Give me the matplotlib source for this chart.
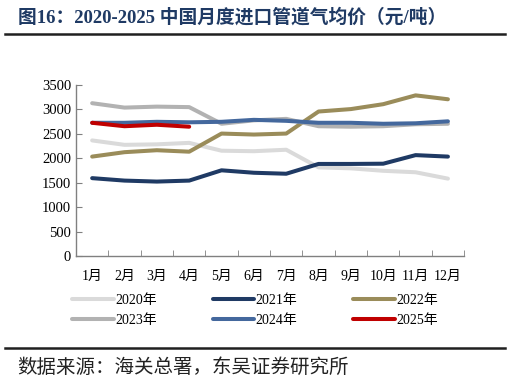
import matplotlib.pyplot as plt
import numpy as np

# Monthly average import price of pipeline gas (yuan/ton)
months = ['1月', '2月', '3月', '4月', '5月', '6月', '7月', '8月', '9月', '10月', '11月', '12月']
y2020 = [2360, 2270, 2280, 2310, 2150, 2140, 2170, 1810, 1790, 1740, 1710, 1580]
y2021 = [1590, 1540, 1520, 1540, 1750, 1700, 1680, 1880, 1880, 1885, 2060, 2030]
y2022 = [2030, 2120, 2160, 2130, 2500, 2480, 2500, 2950, 3000, 3100, 3280, 3200]
y2023 = [3120, 3030, 3050, 3040, 2700, 2770, 2800, 2650, 2640, 2650, 2690, 2700]
y2024 = [2720, 2720, 2740, 2730, 2740, 2780, 2760, 2720, 2720, 2700, 2710, 2750]
y2025 = [2720, 2650, 2680, 2640]

series = [('2020年', y2020, '#dadada'), ('2021年', y2021, '#1f3a64'),
          ('2022年', y2022, '#9a8c5a'), ('2023年', y2023, '#b2b2b2'),
          ('2024年', y2024, '#44689d'), ('2025年', y2025, '#c00000')]

plt.rcParams['font.family'] = ['Liberation Serif', 'Noto Sans CJK SC']

fig = plt.figure(figsize=(5.1, 3.81), dpi=100)
ax = fig.add_axes([0.149, 0.328, 0.761, 0.450])

x = np.arange(len(months))
handles = []
for label, vals, color in series:
    h, = ax.plot(x[:len(vals)], vals, color=color, lw=2.9, label=label, solid_capstyle='round')
    handles.append(h)

ax.set_xlim(-0.5, 11.5)
ax.set_ylim(0, 3500)
ax.set_yticks(range(0, 3501, 500))
ax.set_xticks(x)
ax.set_xticklabels(months, fontsize=10)
ax.set_xticks(np.arange(-0.5, 12, 1), minor=True)
ax.tick_params(axis='x', which='major', length=0, pad=10)
ax.tick_params(axis='x', which='minor', direction='in', length=4, color='#808080')
ax.tick_params(axis='y', direction='in', length=4, color='#808080', labelsize=10.5)
for s in ['top', 'right']:
    ax.spines[s].set_visible(False)
for s in ['left', 'bottom']:
    ax.spines[s].set_color('#808080')
    ax.spines[s].set_linewidth(1)

# legend is filled column by column, so reorder to read row by row
order = [0, 3, 1, 4, 2, 5]
fig.legend([handles[i] for i in order], [series[i][0] for i in order],
           loc='center', bbox_to_anchor=(0.5, 0.185), ncol=3, frameon=False,
           fontsize=10, handlelength=3.0, handletextpad=0.1, columnspacing=4.0,
           labelspacing=0.55)

fig.text(0.035, 0.955, '图16：2020-2025 中国月度进口管道气均价（元/吨）', fontsize=13.5,
         fontweight='bold', color='#1f3a64', va='center')
fig.add_artist(plt.Line2D([0.01, 0.99], [0.91, 0.91], color='#202020', lw=1.8))
fig.add_artist(plt.Line2D([0.01, 0.99], [0.087, 0.087], color='#202020', lw=1.8))
fig.text(0.033, 0.035, '数据来源：海关总署，东吴证券研究所', fontsize=14,
         family=['Noto Sans CJK SC'], color='#222222', va='center')

fig.savefig('out.png', dpi=100)
